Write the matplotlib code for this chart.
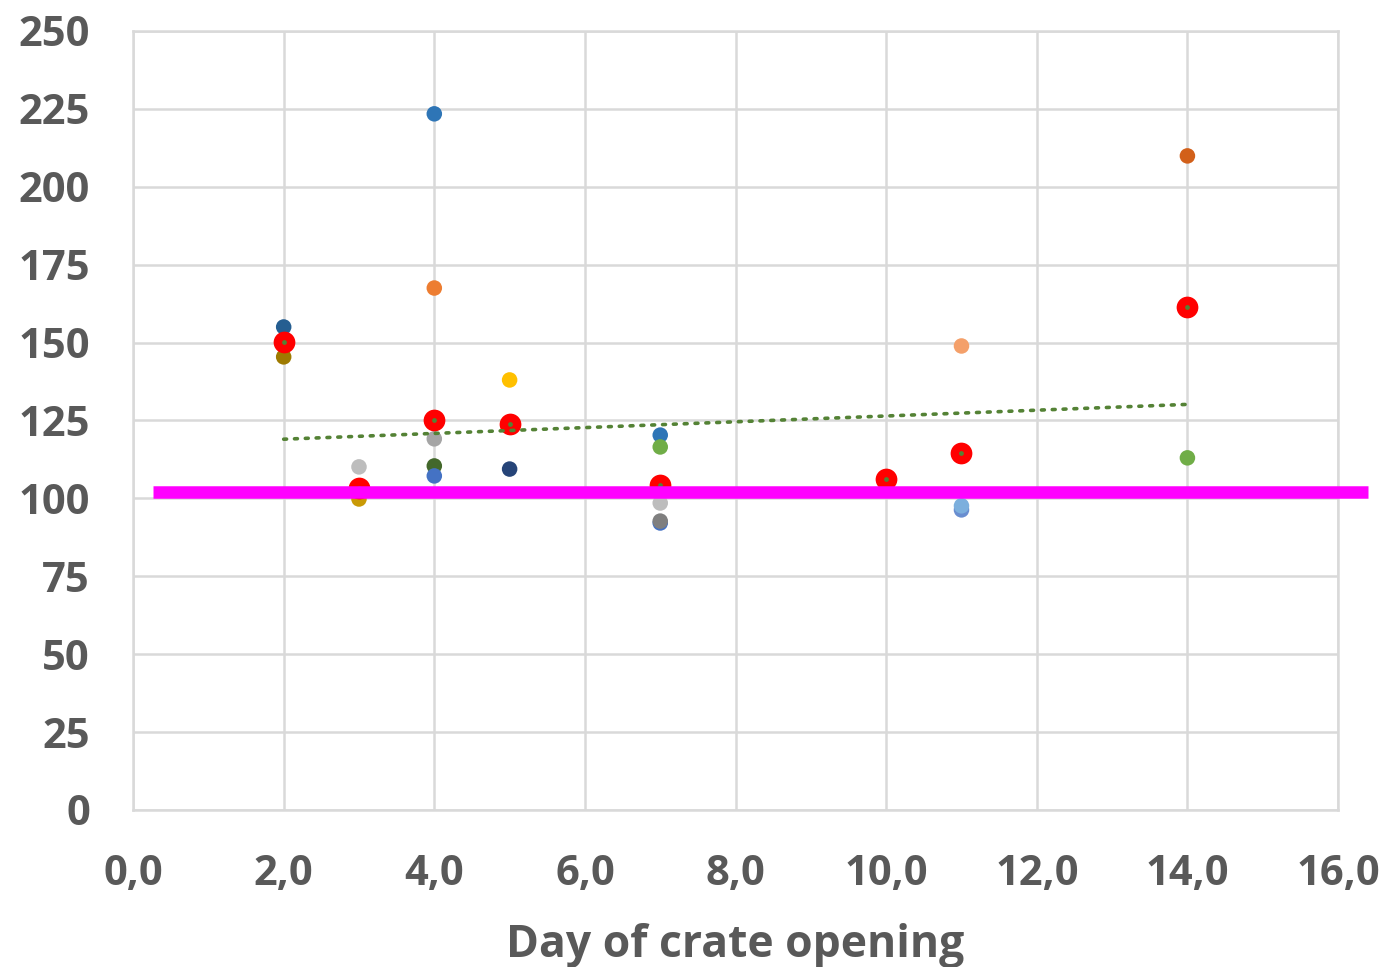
import numpy as np
import matplotlib.pyplot as plt
from matplotlib.ticker import FuncFormatter

# individual crate observations
obs_day = [2, 2, 3, 3, 4, 4, 4, 4, 4, 5, 5, 7, 7, 7, 7, 7, 11, 11, 11, 14, 14]
obs_val = [155.0, 145.4, 110.1, 99.8, 223.4, 167.5, 119.1, 110.4, 107.2, 138.0, 109.4,
           120.3, 116.5, 98.5, 92.1, 92.7, 148.9, 96.3, 97.6, 209.9, 113.0]
obs_color = ["#255E91", "#9E7A00", "#BDBDBD", "#C99A06", "#2E75B6", "#ED7D31", "#A5A5A5",
             "#43682B", "#4472C4", "#FFC000", "#264478", "#2E75B6", "#70AD47", "#BDBDBD",
             "#4472C4", "#7F7F7F", "#F4A06A", "#698ED0", "#7CAFDD", "#D2601A",
             "#70AD47"]

# mean per opening day
mean_day = [2, 3, 4, 5, 7, 10, 11, 14]
mean_val = [150.2, 103.3, 125.2, 123.9, 104.3, 106.2, 114.6, 161.4]

ref_x = [0.27, 16.4]
ref_y = [102, 102]

grey = "#595959"
grid = "#D9D9D9"
font = "Open Sans"

fig = plt.figure(figsize=(13.86, 9.67), dpi=100)
ax = fig.add_axes([0.096, 0.1624, 0.8694, 0.8056])

ax.scatter(obs_day, obs_val, s=125, c=obs_color, zorder=3, linewidths=0)
ax.scatter(mean_day, mean_val, s=245, c="#FF0000", zorder=4, linewidths=0)
ax.scatter(mean_day, mean_val, s=12, c="#548235", zorder=5, linewidths=0)

# linear trend through the means
k, b = np.polyfit(mean_day, mean_val, 1)
tx = np.array([min(mean_day), max(mean_day)])
ax.plot(tx, k * tx + b, color="#548235", lw=2.6, ls=(0, (0.8, 2.2)),
        dash_capstyle="round", zorder=5)

ax.plot(ref_x, ref_y, color="#FF00FF", lw=9, solid_capstyle="butt",
        clip_on=False, zorder=6)

ax.set_xlim(0, 16)
ax.set_ylim(0, 250)
ax.set_xticks(np.arange(0, 17, 2))
ax.set_yticks(np.arange(0, 251, 25))
ax.xaxis.set_major_formatter(FuncFormatter(lambda v, p: f"{v:.1f}".replace(".", ",")))
ax.grid(True, color=grid, lw=1.8)
ax.set_axisbelow(True)
for s in ax.spines.values():
    s.set_color(grid)
    s.set_linewidth(1.8)
ax.tick_params(length=0, labelsize=30, labelcolor=grey)
ax.tick_params(axis="y", pad=31)
ax.tick_params(axis="x", pad=32)
for lab in ax.get_xticklabels() + ax.get_yticklabels():
    lab.set_family(font)
    lab.set_fontweight("bold")

ax.set_xlabel("Day of crate opening", fontsize=32, color=grey, family=font,
              fontweight="bold", labelpad=20)

fig.savefig("out.png", dpi=100)
